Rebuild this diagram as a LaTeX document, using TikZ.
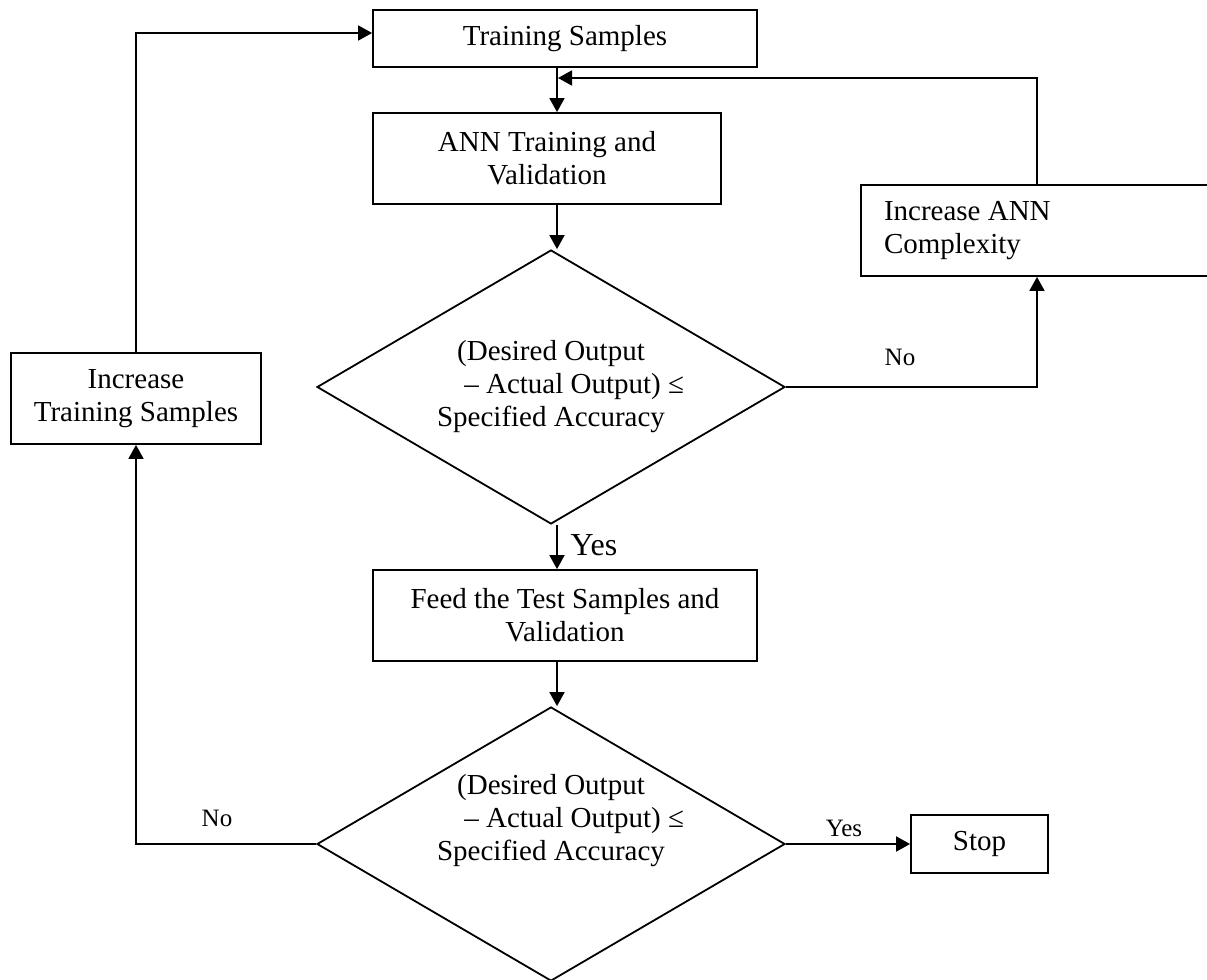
\documentclass[tikz,border=0pt]{standalone}
\usepackage{fontspec}
\setmainfont{Liberation Serif}
\usetikzlibrary{shapes.geometric,arrows.meta}

\begin{document}
\begin{tikzpicture}[x=0.5pt,y=-0.5pt,line width=0.9pt]
\tikzstyle{every node}+=[inner sep=0pt,font=\fontsize{14.5}{16.5}\selectfont]
\tikzstyle{block}=[draw,rectangle,align=center]
\tikzstyle{decision}=[draw,diamond,minimum width=234pt,minimum height=137pt]
\tikzstyle{flow}=[-{Triangle[length=7pt,width=7.5pt]}]
\tikzstyle{answer}=[font=\fontsize{12.5}{14}\selectfont]
\useasboundingbox (0,0) rectangle (1207,980);
\coordinate (spine) at (557,0);
\coordinate (merge) at (558,78);
\node [block,minimum width=192pt,minimum height=28.5pt] (train) at (565,38.5) {Training Samples};
\node [block,minimum width=174pt,minimum height=45.5pt] (ann) at (547,158.5) {ANN Training and\\Validation};
\node [decision] (check1) at (551,387) {};
\node [align=center] (check1txt) at (551,387) {(Desired Output\\\hspace*{1.6em}– Actual Output) ≤\\Specified Accuracy};
\node [block,minimum width=192pt,minimum height=45.5pt] (feed) at (565,615.5) {Feed the Test Samples and\\Validation};
\node [decision] (check2) at (551,844) {};
\node [align=center] (check2txt) at (551,821) {(Desired Output\\\hspace*{1.6em}– Actual Output) ≤\\Specified Accuracy};
\node [block,minimum width=68.5pt,minimum height=29pt] (stop) at (979.5,844) {Stop};
\node [block,minimum width=125pt,minimum height=45.5pt] (moresamples) at (136,398.5) {Increase\\Training Samples};
\node [block,align=flush left,text width=153pt,inner xsep=11.5pt,minimum height=45.5pt] (complexity) at (1037,230.5) {Increase ANN\\Complexity};
\node [answer] (no1) at (900,357) {No};
\node [font=\fontsize{16}{18}\selectfont] (yes1) at (594,545) {Yes};
\node [answer] (no2) at (217,818) {No};
\node [answer] (yes2) at (844,828) {Yes};
\draw [flow] (train.south -| spine) -- (ann.north -| spine);
\draw [flow] (ann.south -| spine) -- (check1.north -| spine);
\draw [flow] (check1.south -| spine) -- (feed.north -| spine);
\draw [flow] (feed.south -| spine) -- (check2.north -| spine);
\draw [flow] (check1.east) -| (complexity.south);
\draw [flow] (complexity.north) |- (merge);
\draw [flow] (check2.east) -- (stop.west);
\draw [flow] (check2.west) -| (moresamples.south);
\draw [flow] (moresamples.north) |- ([yshift=2.75pt]train.west);
\end{tikzpicture}
\end{document}
